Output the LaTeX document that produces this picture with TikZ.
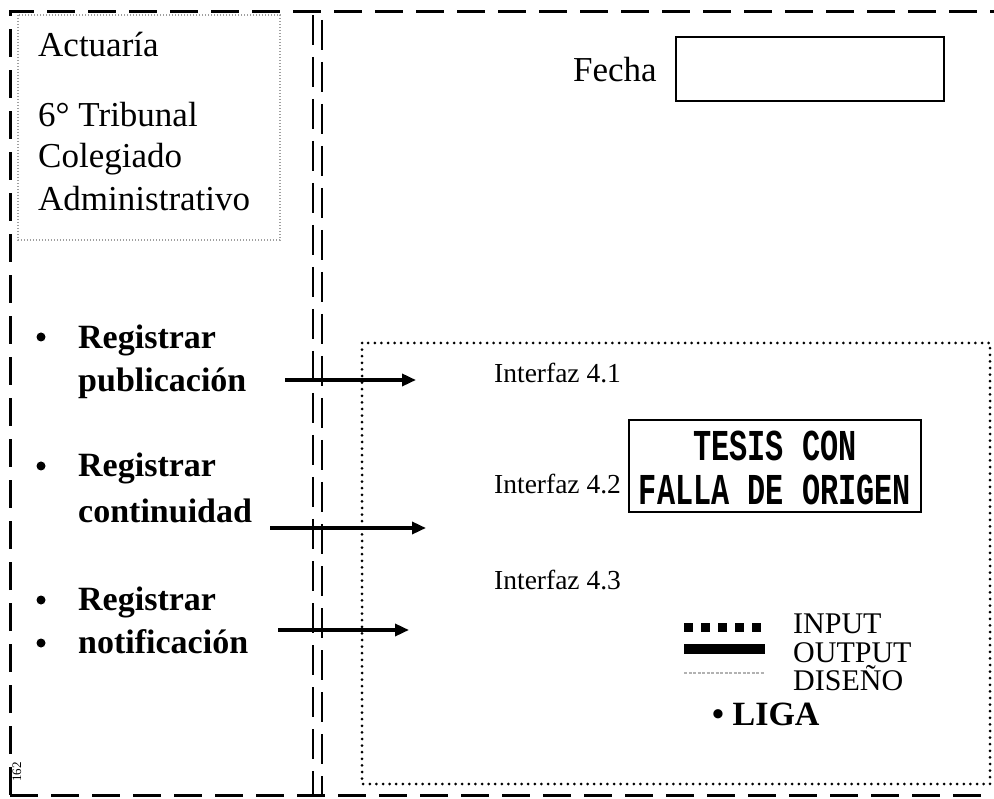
\documentclass[tikz,border=0pt]{standalone}
\usepackage{fontspec}
\usepackage{graphicx}
\setmainfont{Liberation Serif}
\newfontfamily\stampfont{Liberation Mono}
\usetikzlibrary{arrows.meta}
\newcommand{\stampline}[1]{\scalebox{0.72}[1.05]{\stampfont\bfseries\fontsize{42}{42}\selectfont #1}}
\begin{document}
\begin{tikzpicture}[x=1pt,y=-1pt,
  lbl/.style={anchor=mid west, inner sep=0pt, font=\fontsize{35}{36}\selectfont},
  blbl/.style={anchor=mid west, inner sep=0pt, font=\bfseries\fontsize{34}{36}\selectfont},
  ilbl/.style={anchor=mid west, inner sep=0pt, font=\fontsize{27.5}{30}\selectfont},
  leg/.style={anchor=base west, inner sep=0pt, text height=20pt, text depth=0pt, font=\fontsize{30}{30}\selectfont},
  bul/.style={circle, fill, inner sep=0pt, minimum size=9pt},
  outerln/.style={line width=3pt, dash pattern=on 28pt off 13pt},
  dblln/.style={line width=2.8pt, dash pattern=on 30pt off 12pt},
  graybox/.style={draw=gray!75, line width=1.1pt, dash pattern=on 1.2pt off 1.8pt},
  dotbox/.style={line width=3pt, line cap=round, dash pattern=on 0pt off 6.6pt},
  arr/.style={line width=3.4pt, -{Triangle[length=14pt,width=12pt]}},
  solidbox/.style={draw, line width=2.8pt, inner sep=0pt},
  stamp/.style={inner sep=0pt, text height=24pt, text depth=0pt, anchor=base}
]
\useasboundingbox (0,0) rectangle (994,799);

% outer dashed frame
\draw[outerln] (10,795) -- (10,12) -- (994,12);
\draw[outerln] (10,795) -- (994,795);

% double dashed separator
\draw[dblln] (313,15) -- (313,795);
\draw[dblln] (322,20) -- (322,795);

% Actuaria box
\draw[graybox] (18,15) rectangle (280,240);
\node[lbl] (act) at (38,54) {Actuaría};
\node[lbl] (trib) at (38,124) {6° Tribunal};
\node[lbl] (col) at (38,165) {Colegiado};
\node[lbl] (adm) at (38,208) {Administrativo};

% bullet list
\node[bul] (b1) at (41,337) {};
\node[blbl] (r1) at (78,346) {Registrar};
\node[blbl] (p1) at (78,389) {publicación};
\node[bul] (b2) at (41,466) {};
\node[blbl] (r2) at (78,474) {Registrar};
\node[blbl] (c2) at (78,520) {continuidad};
\node[bul] (b3) at (41,600) {};
\node[blbl] (r3) at (78,608) {Registrar};
\node[bul] (b4) at (41,643) {};
\node[blbl] (n3) at (78,651) {notificación};

% Fecha
\node[lbl] (fecha) at (573,79) {Fecha};
\node[solidbox, minimum width=268pt, minimum height=64pt] (fbox) at (810,69) {};

% dotted interface box
\draw[dotbox] (362,343) rectangle (990,784);
\node[ilbl] (i1) at (494,380) {Interfaz 4.1};
\node[ilbl] (i2) at (494,491) {Interfaz 4.2};
\node[ilbl] (i3) at (494,587) {Interfaz 4.3};

% stamp
\node[solidbox, minimum width=292pt, minimum height=92pt] (tesis) at (775,466) {};
\node[stamp] (t1) at (775,461) {\stampline{TESIS CON}};
\node[stamp] (t2) at (775,505) {\stampline{FALLA DE ORIGEN}};

% arrows
\coordinate (s1) at (285,380); \coordinate (e1) at (416,380);
\coordinate (s2) at (270,528); \coordinate (e2) at (426,528);
\coordinate (s3) at (278,630); \coordinate (e3) at (409,630);
\draw[arr] (s1) -- (e1);
\draw[arr] (s2) -- (e2);
\draw[arr] (s3) -- (e3);

% legend
\coordinate (l1a) at (684,627); \coordinate (l1b) at (766,627);
\coordinate (l2a) at (684,649); \coordinate (l2b) at (765,649);
\coordinate (l3a) at (684,673); \coordinate (l3b) at (765,673);
\draw[line width=9pt, dash pattern=on 9pt off 8pt] (l1a) -- (l1b);
\draw[line width=10pt] (l2a) -- (l2b);
\draw[gray!60, line width=2pt, dash pattern=on 3pt off 1.5pt] (l3a) -- (l3b);
\node[leg] (inp) at (793,633) {INPUT};
\node[leg] (outp) at (793,662) {OUTPUT};
\node[leg] (dis) at (793,690) {DISEÑO};
\node[leg, font=\bfseries\fontsize{34}{34}\selectfont, text height=23pt] (liga) at (712,725) {• LIGA};

% page number
\node[rotate=90, inner sep=0pt, font=\fontsize{13}{13}\selectfont] (pg) at (17,772) {162};
\end{tikzpicture}
\end{document}
